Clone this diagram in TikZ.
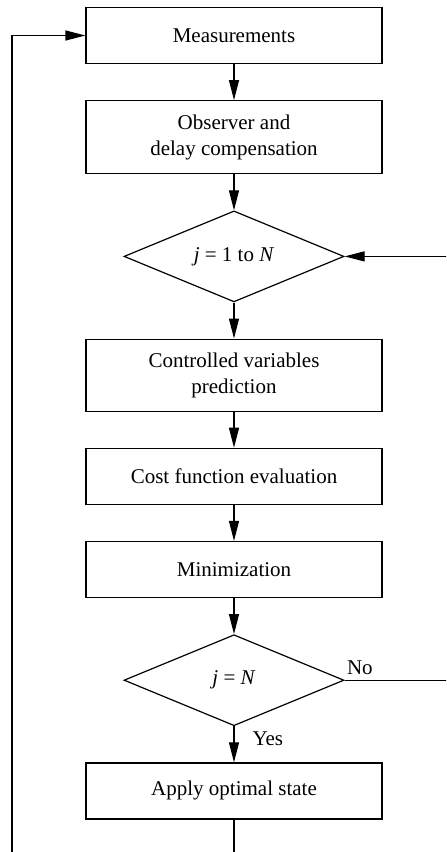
\documentclass[tikz,border=0pt]{standalone}
\usepackage{fontspec}
\setmainfont{Liberation Serif}
\usepackage{tikz}
\usetikzlibrary{arrows.meta,positioning,shapes.geometric}

\begin{document}
\begin{tikzpicture}[x=0.5pt,y=-0.5pt,
  node distance=18pt,
  stepbox/.style={draw,line width=0.6pt,minimum width=148pt,minimum height=28pt,
              align=center,font=\fontsize{10.5}{13}\selectfont},
  test/.style={draw,diamond,aspect=2.4,line width=0.6pt,minimum width=110pt,minimum height=45.5pt,
              inner sep=0pt,font=\fontsize{10.5}{13}\selectfont},
  lbl/.style={inner sep=1pt,font=\fontsize{10.5}{13}\selectfont},
  ar/.style={-{Triangle[length=10pt,width=5pt]},line width=0.6pt}]
\useasboundingbox (0,0) rectangle (446,852);
\clip (0,0) rectangle (446,852);
\node[stepbox] (meas) at (234,35.5) {Measurements};
\node[stepbox,below=of meas,minimum height=36.5pt] (obs) {Observer and\\delay compensation};
\node[test,below=of obs] (loop) {\textit{j} = 1 to \textit{N}};
\node[stepbox,below=of loop,minimum height=36pt] (pred) {Controlled variables\\prediction};
\node[stepbox,below=of pred] (cost) {Cost function evaluation};
\node[stepbox,below=of cost] (mini) {Minimization};
\node[test,below=of mini] (chk) {\textit{j} = \textit{N}};
\node[stepbox,below=of chk] (apply) {Apply optimal state};
\coordinate (lft) at (12,0);
% main chain
\draw[ar] (meas) -- (obs);
\draw[ar] (obs) -- (loop);
\draw[ar] (loop) -- (pred);
\draw[ar] (pred) -- (cost);
\draw[ar] (cost) -- (mini);
\draw[ar] (mini) -- (chk);
\draw[ar] (chk) -- node[lbl,pos=0.35,right=8pt]{Yes} (apply);
% loops back
\draw[ar] (chk.east) -- ++(70pt,0) |- (loop.east);
\node[lbl,anchor=south west,yshift=1.5pt] (no) at (chk.east) {No};
\draw[ar] (apply.south) -- ++(0,-40pt) -| (lft |- meas.west) -- (meas.west);
\end{tikzpicture}
\end{document}
